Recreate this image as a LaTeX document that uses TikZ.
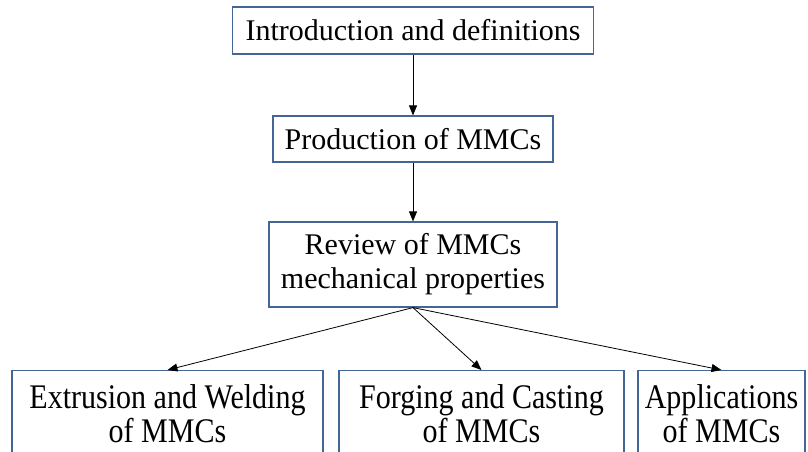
\documentclass[tikz,border=0pt]{standalone}
\usepackage{fontspec}
\setmainfont{Liberation Serif}
\newfontfamily\tallfont[FakeStretch=0.87]{Liberation Serif}
\usetikzlibrary{arrows.meta,positioning}
\definecolor{boxblue}{RGB}{68,102,150}

\begin{document}
\begin{tikzpicture}[
  x=1pt, y=-1pt,
  font=\fontsize{30}{34}\selectfont, >={Triangle[length=10pt,width=8pt]},
  topic/.style={rectangle, draw=boxblue, line width=1.2pt, fill=white, inner xsep=6pt, inner ysep=0pt, align=center},
  subtopic/.style={topic, anchor=north, font=\tallfont\fontsize{34.5}{34}\selectfont, inner xsep=4pt, inner ysep=14pt, text depth=70pt}
]
\useasboundingbox (0,0) rectangle (808,451);
\clip (0,0) rectangle (808,451);

\node[topic, minimum width=361pt, minimum height=47pt] (intro) at (413,30.5) {Introduction and definitions};
\node[topic, minimum width=280pt, minimum height=46pt] (prod) at (413,139) {Production of MMCs};
\node[topic, minimum width=288pt, minimum height=85pt] (review) at (413,264.5) {Review of MMCs\\mechanical properties};

\node[subtopic, minimum width=311pt] (extr) at (167.5,370) {Extrusion and Welding\\of MMCs};
\node[subtopic, minimum width=285pt] (forg) at (481.5,370) {Forging and Casting\\of MMCs};
\node[subtopic, minimum width=167pt] (appl) at (721.5,370) {Applications\\of MMCs};

\draw[->, line width=0.8pt] (intro) -- (prod);
\draw[->, line width=0.8pt] (prod) -- (review);
\draw[->, line width=0.8pt] (review.south) -- (extr.north);
\draw[->, line width=0.8pt] (review.south) -- (forg.north);
\draw[->, line width=0.8pt] (review.south) -- (appl.north);
\end{tikzpicture}
\end{document}
